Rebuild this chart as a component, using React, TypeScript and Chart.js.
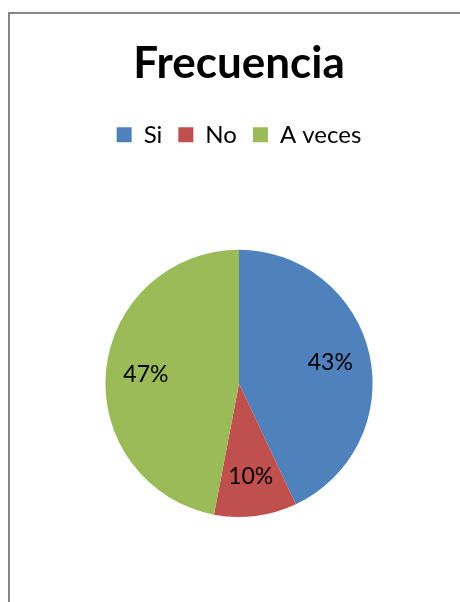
import React, { useEffect, useRef } from "react";
import { Chart, registerables } from "chart.js";

Chart.register(...registerables);

const categories = ["Si", "No", "A veces"];
const values = [43, 10, 47];
const colors = ["#4F81BD", "#C0504D", "#9BBB59"];
const titleText = "Frecuencia";

const FONT = "Lato, 'Open Sans', sans-serif";

const dataLabels = {
  id: "dataLabels",
  afterDatasetsDraw(chart: any) {
    const ctx = chart.ctx;
    const meta = chart.getDatasetMeta(0);
    const data = chart.data.datasets[0].data as number[];
    const total = data.reduce((a, b) => a + b, 0);
    ctx.save();
    ctx.font = `23px ${FONT}`;
    ctx.fillStyle = "#000";
    ctx.textAlign = "center";
    ctx.textBaseline = "middle";
    meta.data.forEach((arc: any, i: number) => {
      const p = arc.getProps(["x", "y", "startAngle", "endAngle", "outerRadius"], true);
      const mid = (p.startAngle + p.endAngle) / 2;
      const r = p.outerRadius * 0.7;
      const x = p.x + Math.cos(mid) * r;
      const y = p.y + Math.sin(mid) * r;
      ctx.fillText(Math.round((data[i] / total) * 100) + "%", x, y);
    });
    ctx.restore();
  },
};

// adds empty space below the legend so the pie sits lower
const legendGap = {
  id: "legendGap",
  beforeUpdate(chart: any) {
    const lg = chart.legend;
    if (lg && !lg._gapPatched) {
      const orig = lg.fit.bind(lg);
      lg.fit = function () {
        orig();
        this.height += 93;
      };
      lg._gapPatched = true;
    }
  },
};

export default function App() {
  const ref = useRef<HTMLCanvasElement>(null);
  useEffect(() => {
    document.body.style.margin = "0";
    const chart = new Chart(ref.current!, {
      type: "pie",
      data: {
        labels: categories,
        datasets: [
          {
            data: values,
            backgroundColor: colors,
            borderWidth: 0,
          },
        ],
      },
      options: {
        responsive: false,
        animation: false,
        layout: { padding: { left: 38, right: 20, top: 0, bottom: 85 } },
        plugins: {
          tooltip: { enabled: false },
          title: {
            display: true,
            text: titleText,
            color: "#000",
            font: { family: FONT, size: 44, weight: "bold", lineHeight: 1.2 },
            padding: { top: 37, bottom: 17 },
          },
          legend: {
            display: true,
            position: "top",
            labels: {
              color: "#000",
              font: { family: FONT, size: 24 },
              boxWidth: 15,
              boxHeight: 15,
              padding: 16,
            },
          },
        },
      },
      plugins: [dataLabels, legendGap],
    });
    return () => chart.destroy();
  }, []);
  return (
    <div style={{ position: "relative", width: 460, height: 602, overflow: "hidden", background: "#fff" }}>
      <div
        style={{
          position: "absolute",
          left: 8,
          top: 12,
          width: 470,
          height: 610,
          borderLeft: "2px solid #868686",
          borderTop: "2px solid #868686",
          boxSizing: "border-box",
        }}
      />
      <canvas ref={ref} width={460} height={602} style={{ position: "absolute", left: 0, top: 0 }} />
    </div>
  );
}
